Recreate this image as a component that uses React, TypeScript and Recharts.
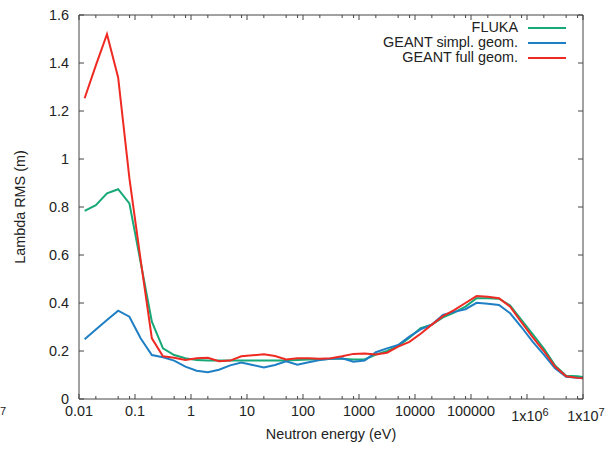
import React from "react";
import { LineChart, Line, XAxis, YAxis, Legend } from "recharts";

// Neutron energies (eV)
const energies = [
  0.0126, 0.02, 0.0316, 0.05, 0.0794, 0.126, 0.2, 0.316, 0.5, 0.794,
  1.26, 2, 3.16, 5, 7.94, 12.6, 20, 31.6, 50, 79.4,
  126, 200, 316, 500, 794, 1260, 2000, 3160, 5000, 7940,
  12600, 20000, 31600, 50000, 79400, 126000, 200000, 316000, 500000, 794000,
  1260000, 2000000, 3160000, 5000000, 7940000, 10000000,
];

const fluka = [
  0.784, 0.808, 0.857, 0.874, 0.815, 0.57, 0.322, 0.211, 0.183, 0.17,
  0.162, 0.16, 0.16, 0.16, 0.16, 0.16, 0.16, 0.16, 0.16, 0.162,
  0.165, 0.165, 0.168, 0.168, 0.165, 0.165, 0.185, 0.2, 0.22, 0.255,
  0.295, 0.31, 0.34, 0.36, 0.385, 0.42, 0.42, 0.418, 0.39, 0.33,
  0.27, 0.21, 0.14, 0.097, 0.095, 0.092,
];

const geantSimpl = [
  0.249, 0.29, 0.329, 0.368, 0.343, 0.253, 0.183, 0.174, 0.16, 0.135,
  0.118, 0.112, 0.122, 0.14, 0.152, 0.142, 0.131, 0.142, 0.157, 0.143,
  0.153, 0.162, 0.168, 0.17, 0.155, 0.16, 0.195, 0.211, 0.225, 0.26,
  0.29, 0.31, 0.35, 0.363, 0.374, 0.401, 0.397, 0.392, 0.357, 0.3,
  0.239, 0.185, 0.128, 0.093, 0.088, 0.086,
];

const geantFull = [
  1.253, 1.39, 1.52, 1.34, 0.92, 0.58, 0.253, 0.178, 0.172, 0.163,
  0.17, 0.172, 0.157, 0.16, 0.178, 0.182, 0.186, 0.179, 0.165, 0.17,
  0.17, 0.168, 0.17, 0.178, 0.188, 0.19, 0.185, 0.193, 0.218, 0.238,
  0.272, 0.31, 0.345, 0.37, 0.4, 0.429, 0.426, 0.42, 0.385, 0.32,
  0.258, 0.2, 0.135, 0.095, 0.088, 0.086,
];

const xMajorTicks = [0.01, 0.1, 1, 10, 100, 1000, 10000, 100000, 1000000, 10000000];
const xMajorLabels = ["0.01", "0.1", "1", "10", "100", "1000", "10000", "100000", "1x10^6", "1x10^7"];
const xMinorFactors = [2, 5, 8];

const yTicks = [0, 0.2, 0.4, 0.6, 0.8, 1, 1.2, 1.4, 1.6];
const yTickLabels = ["0", "0.2", "0.4", "0.6", "0.8", "1", "1.2", "1.4", "1.6"];

const seriesNames = ["FLUKA", "GEANT simpl. geom.", "GEANT full geom."];
const seriesColors = ["#17a878", "#1f7fc4", "#ee2a22"];

const data = energies.map((e, i) => ({
  e,
  fluka: fluka[i],
  simpl: geantSimpl[i],
  full: geantFull[i],
}));

const xAllTicks: number[] = [];
xMajorTicks.forEach((m, i) => {
  xAllTicks.push(m);
  if (i < xMajorTicks.length - 1) xMinorFactors.forEach((f) => xAllTicks.push(m * f));
});
xAllTicks.sort((a, b) => a - b);

const FONT = "'Liberation Sans', Arial, Helvetica, sans-serif";
const AXIS = "#444";
const TEXT = "#222";
const FS = 14.4;

const majorIndex = (v: number) => xMajorTicks.findIndex((m) => Math.abs(m - v) / m < 1e-6);

const BottomTick = (props: any) => {
  const { x, y, payload } = props;
  const idx = majorIndex(payload.value);
  if (idx < 0) return <line x1={x} x2={x} y1={y} y2={y - 3} stroke={AXIS} strokeWidth={1} />;
  const lab = xMajorLabels[idx];
  const parts = lab.split("^");
  return (
    <g>
      <line x1={x} x2={x} y1={y} y2={y - 5} stroke={AXIS} strokeWidth={1} />
      {parts.length === 1 ? (
        <text x={x} y={y + 17} textAnchor="middle" fontSize={FS} fontFamily={FONT} fill={TEXT}>
          {lab}
        </text>
      ) : (
        <text x={x + 3} y={y + 22} textAnchor="middle" fontSize={FS} fontFamily={FONT} fill={TEXT}>
          {parts[0]}
          <tspan dy={-5} fontSize={11}>
            {parts[1]}
          </tspan>
        </text>
      )}
    </g>
  );
};

const TopTick = (props: any) => {
  const { x, y, payload } = props;
  const idx = majorIndex(payload.value);
  const len = idx < 0 ? 3 : 5;
  return <line x1={x} x2={x} y1={y} y2={y + len} stroke={AXIS} strokeWidth={1} />;
};

const LeftTick = (props: any) => {
  const { x, y, payload } = props;
  const idx = yTicks.findIndex((t) => Math.abs(t - payload.value) < 1e-9);
  return (
    <g>
      <line x1={x} x2={x + 5} y1={y} y2={y} stroke={AXIS} strokeWidth={1} />
      <text x={x - 10} y={y} dy="0.35em" textAnchor="end" fontSize={FS} fontFamily={FONT} fill={TEXT}>
        {idx >= 0 ? yTickLabels[idx] : ""}
      </text>
    </g>
  );
};

const RightTick = (props: any) => {
  const { x, y } = props;
  return <line x1={x} x2={x - 5} y1={y} y2={y} stroke={AXIS} strokeWidth={1} />;
};

const XLabel = (props: any) => {
  const vb = props.viewBox || {};
  const cx = vb.x + vb.width / 2;
  return (
    <g>
      <text x={cx} y={vb.y + 40} textAnchor="middle" fontSize={FS} fontFamily={FONT} fill={TEXT}>
        Neutron energy (eV)
      </text>
      <text x={vb.x - 79} y={vb.y + 16} textAnchor="start" fontSize={11} fontFamily={FONT} fill={TEXT}>
        7
      </text>
    </g>
  );
};

const YLabel = (props: any) => {
  const vb = props.viewBox || {};
  const bx = vb.x + vb.width - 54;
  const cy = vb.y + vb.height / 2;
  return (
    <text
      x={bx}
      y={cy}
      transform={`rotate(-90, ${bx}, ${cy})`}
      textAnchor="middle"
      fontSize={FS}
      fontFamily={FONT}
      fill={TEXT}
    >
      Lambda RMS (m)
    </text>
  );
};

const LegendBox = () => (
  <div style={{ fontFamily: FONT, fontSize: FS, color: TEXT }}>
    {seriesNames.map((n, i) => (
      <div
        key={n}
        style={{ display: "flex", justifyContent: "flex-end", alignItems: "center", height: 15, lineHeight: "15px" }}
      >
        <span style={{ whiteSpace: "nowrap" }}>{n}</span>
        <span
          style={{ display: "inline-block", width: 38, height: 2, background: seriesColors[i], marginLeft: 10 }}
        />
      </div>
    ))}
  </div>
);

export default function App() {
  return (
    <div style={{ position: "absolute", left: 0, top: 0, width: 614, height: 450, background: "#fff" }}>
      <LineChart
        width={614}
        height={450}
        data={data}
        margin={{ top: 14, right: 30, bottom: 50, left: 78 }}
      >
        <XAxis
          dataKey="e"
          type="number"
          scale="log"
          domain={[0.01, 10000000]}
          allowDataOverflow
          ticks={xAllTicks}
          interval={0}
          height={1}
          tickSize={0}
          tickMargin={0}
          tickLine={false}
          axisLine={{ stroke: AXIS, strokeWidth: 1 }}
          tick={<BottomTick />}
          label={<XLabel />}
        />
        <XAxis
          xAxisId="top"
          orientation="top"
          dataKey="e"
          type="number"
          scale="log"
          domain={[0.01, 10000000]}
          allowDataOverflow
          ticks={xAllTicks}
          interval={0}
          height={1}
          tickSize={0}
          tickMargin={0}
          tickLine={false}
          axisLine={{ stroke: AXIS, strokeWidth: 1 }}
          tick={<TopTick />}
        />
        <YAxis
          type="number"
          domain={[0, 1.6]}
          allowDataOverflow
          ticks={yTicks}
          interval={0}
          width={1}
          tickSize={0}
          tickMargin={0}
          tickLine={false}
          axisLine={{ stroke: AXIS, strokeWidth: 1 }}
          tick={<LeftTick />}
          label={<YLabel />}
        />
        <YAxis
          yAxisId="right"
          orientation="right"
          type="number"
          domain={[0, 1.6]}
          allowDataOverflow
          ticks={yTicks}
          interval={0}
          width={1}
          tickSize={0}
          tickMargin={0}
          tickLine={false}
          axisLine={{ stroke: AXIS, strokeWidth: 1 }}
          tick={<RightTick />}
        />
        <Legend
          layout="vertical"
          align="center"
          verticalAlign="middle"
          content={<LegendBox />}
          wrapperStyle={{ position: "absolute", left: 316, top: 20, width: 250, height: 45 }}
        />
        <Line dataKey="fluka" name={seriesNames[0]} stroke={seriesColors[0]} strokeWidth={2} dot={false} isAnimationActive={false} type="linear" />
        <Line dataKey="simpl" name={seriesNames[1]} stroke={seriesColors[1]} strokeWidth={2} dot={false} isAnimationActive={false} type="linear" />
        <Line dataKey="full" name={seriesNames[2]} stroke={seriesColors[2]} strokeWidth={2} dot={false} isAnimationActive={false} type="linear" />
      </LineChart>
    </div>
  );
}
